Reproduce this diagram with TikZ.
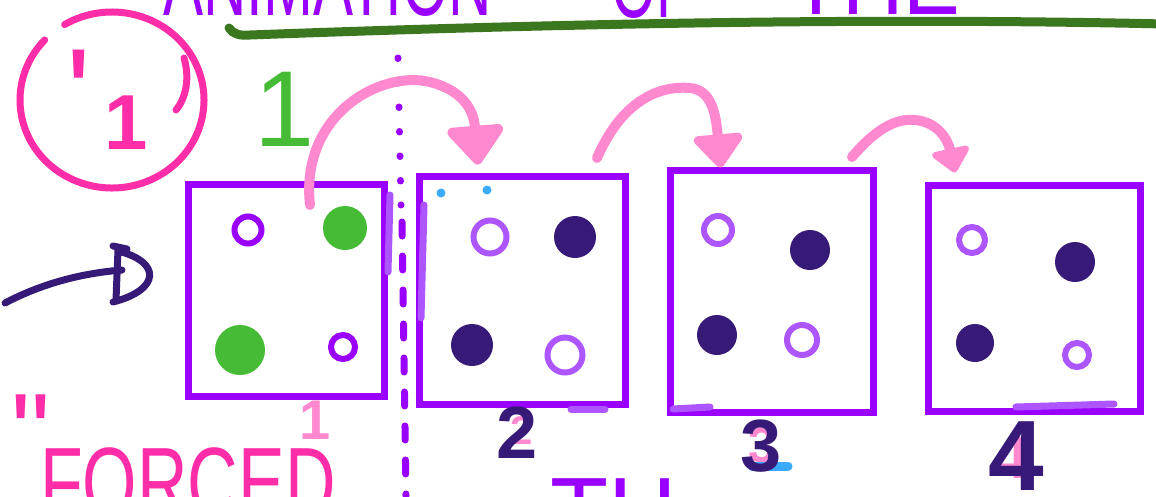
\documentclass[tikz,border=0pt]{standalone}
\usepackage{fontspec}
\setmainfont{Liberation Sans}
\usetikzlibrary{positioning, arrows.meta, calc}
\definecolor{mViolet}{HTML}{9900FF}
\definecolor{mLilac}{HTML}{AD55FF}
\definecolor{mNavy}{HTML}{371A78}
\definecolor{mGreen}{HTML}{46BB36}
\definecolor{mRose}{HTML}{FF88CE}
\definecolor{mMagenta}{HTML}{FF2DA8}
\definecolor{mOlive}{HTML}{3B771F}
\definecolor{mSky}{HTML}{3CAAFF}
\newcommand{\fsz}[1]{\fontsize{#1}{#1}\selectfont}

\begin{document}
\begin{tikzpicture}[x=1pt, y=-1pt,
  frame/.style={draw=mViolet, line width=7pt, inner sep=0pt},
  hollow/.style={circle, draw=#1, line width=6pt, inner sep=0pt},
  hollow/.default=mLilac,
  blob/.style={circle, fill=#1, inner sep=0pt},
  blob/.default=mNavy,
  hop/.style={draw=mRose, line width=10pt, line cap=round},
  scrawl/.style={inner sep=0pt},
  stroke/.style={line width=7pt, line cap=round, line join=round},
]
  \useasboundingbox (0,0) rectangle (1156,496);
  \clip (0,0) rectangle (1156,496);
  \fill[white] (0,0) rectangle (1156,496);

  % heading, cut off at the top edge
  \node[scrawl, mViolet, anchor=base west, font=\fsz{100}] (w1) at (163,15) {\scalebox{0.6}[1]{ANIMATION}};
  \node[scrawl, mViolet, anchor=base west, font=\fsz{100}] (w2) at (611,17) {\scalebox{0.58}[1]{OF}};
  \node[scrawl, mViolet, anchor=base west, font=\fsz{100}] (w3) at (790,14) {\scalebox{0.85}[1]{THE}};
  \draw[mOlive, line width=9pt, line cap=round] (229,28) .. controls (233,34) and (240,36) .. (250,35)
    .. controls (600,22) and (900,18) .. (1165,24);

  % circled mark and step number
  \draw[mMagenta, stroke] (112,100) ++(239:92 and 88) arc[start angle=239, end angle=583, x radius=92, y radius=88];
  \draw[mMagenta, stroke] (184,58) .. controls (190,78) and (186,98) .. (176,110);
  \node[scrawl, mMagenta, anchor=north, font=\fsz{130}] (q1) at (79,50) {\textquotesingle};
  \node[scrawl, mMagenta, font=\bfseries\fsz{78}] (c1) at (126,123) {1};
  \node[scrawl, mGreen, font=\fsz{108}] (g1) at (285,109) {1};

  % boxes
  \node[frame, minimum width=196pt, minimum height=212pt] (b1) at (286,290) {};
  \node[frame, minimum width=206pt, minimum height=228pt] (b2) at (522,290) {};
  \node[frame, minimum width=203pt, minimum height=242pt] (b3) at (771.5,291) {};
  \node[frame, minimum width=212pt, minimum height=226pt] (b4) at (1034,298) {};

  \draw[mLilac, stroke] (390,195) -- (388,272);
  \draw[mLilac, stroke] (424,205) -- (421,318);
  \draw[mLilac, stroke] (571,409) -- (605,409);
  \draw[mLilac, stroke] (673,409) -- (710,407);
  \draw[mLilac, stroke] (1016,407) -- (1114,404);

  % dots in each box
  \node[hollow=mViolet, minimum size=27pt] (d11) at (248,230) {};
  \node[blob=mGreen, minimum size=44pt] (d12) at (345,228) {};
  \node[blob=mGreen, minimum size=50pt] (d13) at (240,350) {};
  \node[hollow=mViolet, minimum size=24pt] (d14) at (343,347) {};

  \node[hollow, minimum size=33pt] (d21) at (490,237) {};
  \node[blob, minimum size=42pt] (d22) at (575,237) {};
  \node[blob, minimum size=42pt] (d23) at (472,345) {};
  \node[hollow, minimum size=35pt] (d24) at (565,355) {};

  \node[hollow, minimum size=28pt] (d31) at (718,230) {};
  \node[blob, minimum size=40pt] (d32) at (810,250) {};
  \node[blob, minimum size=40pt] (d33) at (717,335) {};
  \node[hollow, minimum size=30pt] (d34) at (802,340) {};

  \node[hollow, minimum size=26pt] (d41) at (972,240) {};
  \node[blob, minimum size=40pt] (d42) at (1075,262) {};
  \node[blob, minimum size=38pt] (d43) at (975,343) {};
  \node[hollow, minimum size=24pt] (d44) at (1077,355) {};

  \fill[mSky] (441,193) circle[radius=4.5];
  \fill[mSky] (487,190) circle[radius=4.5];

  % divider after the first box
  \draw[mViolet, line width=7pt, line cap=round, dash pattern=on 0.5pt off 24pt] (398,58) -- (401,205);
  \draw[mViolet, line width=7pt, line cap=round, dash pattern=on 14pt off 20pt] (402,222) -- (406,496);

  % hops between boxes
  \coordinate (t1) at (310,205);
  \coordinate (t2) at (597,158);
  \coordinate (t3) at (852,157);
  \draw[hop, -{Triangle[length=42pt, width=64pt, round]}] (t1) .. controls (300,115) and (380,70) .. (430,82)
    .. controls (468,92) and (474,115) .. ($(b2.north)+(-44,-8)$);
  \draw[hop, -{Triangle[length=36pt, width=56pt, round]}] (t2) .. controls (620,105) and (655,85) .. (690,88)
    .. controls (712,90) and (716,115) .. ($(b3.north)+(-51,1)$);
  \draw[hop, -{Triangle[length=26pt, width=44pt, round]}] (t3) .. controls (875,130) and (895,118) .. (915,120)
    .. controls (938,122) and (948,140) .. ($(b4.north)+(-79,-9)$);

  % entry arrow
  \coordinate (a0) at (5,303);
  \coordinate (a1) at (122,270);
  \draw[mNavy, stroke] (a0) .. controls (45,282) and (85,273) .. (a1);
  \draw[mNavy, stroke] (113,246) -- (127,249) (118,250) -- (116,300)
    (118,251) .. controls (162,262) and (160,290) .. (113,302);

  % box numbers
  \node[scrawl, mRose, font=\bfseries\fsz{56}] (n1) at (315,420) {1};
  \node[scrawl, mRose, font=\bfseries\fsz{40}] (n2p) at (522,431) {2};
  \node[scrawl, mNavy, font=\bfseries\fsz{74}] (n2) at (517,433) {2};
  \node[scrawl, mRose, font=\bfseries\fsz{50}] (n3p) at (762,445) {3};
  \draw[mSky, line width=9pt, line cap=round] (752,466) -- (788,466);
  \node[scrawl, mNavy, font=\bfseries\fsz{74}] (n3) at (761,446) {3};
  \node[scrawl, mRose, font=\bfseries\fsz{60}] (n4p) at (1011,458) {4};
  \node[scrawl, mNavy, font=\bfseries\fsz{100}] (n4) at (1016,456) {4};

  % words cut off at the bottom edge
  \node[scrawl, mMagenta, anchor=north, font=\fsz{110}] (q2) at (31,395) {\textquotedbl};
  \node[scrawl, mMagenta, anchor=north west, font=\fsz{100}] (forced) at (40,447) {\scalebox{0.7}[1]{FORCED}};
  \node[scrawl, mViolet, anchor=north west, font=\fsz{100}] (th) at (550,478) {\scalebox{0.95}[1]{TH}};
\end{tikzpicture}
\end{document}
